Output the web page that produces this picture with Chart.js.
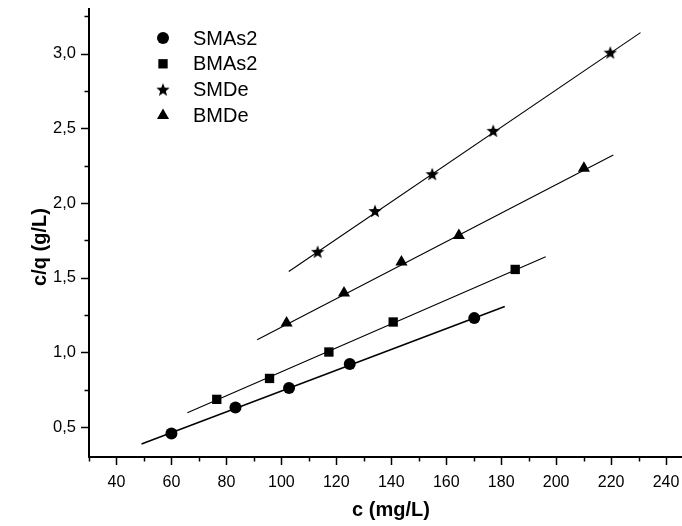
<!DOCTYPE html>
<html>
<head>
<meta charset="utf-8">
<script src="https://cdn.jsdelivr.net/npm/chart.js@4.4.0/dist/chart.umd.min.js"></script>
<style>
  body { margin: 0; background: #fff; }
  #wrap { width: 682px; height: 526px; }
</style>
</head>
<body>
<div id="wrap"><canvas id="isoChart"></canvas></div>
<script>
const seriesNames = ["SMAs2", "BMAs2", "SMDe", "BMDe"];

// measured points: c (mg/L) and c/q (g/L)
const smas2C = [60, 83.3, 102.8, 124.9, 170.2];
const smas2Cq = [0.458, 0.632, 0.762, 0.922, 1.230];
const bmas2C = [76.5, 95.7, 117.3, 140.7, 185.1];
const bmas2Cq = [0.686, 0.826, 1.003, 1.204, 1.556];
const smdeC = [113.2, 134.1, 154.9, 177.1, 219.7];
const smdeCq = [1.674, 1.947, 2.194, 2.484, 3.008];
const bmdeC = [101.9, 122.8, 143.7, 164.6, 210.1];
const bmdeCq = [1.197, 1.398, 1.605, 1.783, 2.234];

// linear fits, start and end of each line
const smas2FitC = [49.1, 181.3];
const smas2FitCq = [0.387, 1.308];
const bmas2FitC = [65.8, 196.2];
const bmas2FitCq = [0.597, 1.641];
const smdeFitC = [102.7, 230.7];
const smdeFitCq = [1.542, 3.142];
const bmdeFitC = [91.2, 220.8];
const bmdeFitCq = [1.085, 2.323];

const xTicks = [40, 60, 80, 100, 120, 140, 160, 180, 200, 220, 240];
const xMinorTicks = [30, 50, 70, 90, 110, 130, 150, 170, 190, 210, 230];
const yTicks = [0.5, 1.0, 1.5, 2.0, 2.5, 3.0];
const yMinorTicks = [0.75, 1.25, 1.75, 2.25, 2.75, 3.25];

const FONT = "'Liberation Sans', Arial, Helvetica, sans-serif";
Chart.defaults.font.family = FONT;
Chart.defaults.color = '#000';

function toPoints(xs, ys) {
  return xs.map((v, i) => ({x: v, y: ys[i]}));
}

// filled five-point star used as marker
function makeStar(size) {
  const c = document.createElement('canvas');
  c.width = size; c.height = size;
  const g = c.getContext('2d');
  const cx = size / 2, cy = size / 2 + 0.5, R = size / 2, r = R * 0.42;
  g.beginPath();
  for (let i = 0; i < 10; i++) {
    const a = -Math.PI / 2 + i * Math.PI / 5;
    const rad = i % 2 === 0 ? R : r;
    g.lineTo(cx + rad * Math.cos(a), cy + rad * Math.sin(a));
  }
  g.closePath();
  g.fillStyle = '#000';
  g.fill();
  return c;
}
const starImg = makeStar(14);

const markers = [
  {pointStyle: 'circle', radius: 6},
  {pointStyle: 'rect', radius: 6.6},
  {pointStyle: starImg, radius: 7},
  {pointStyle: 'triangle', radius: 7}
];

const pointSets = [
  toPoints(smas2C, smas2Cq),
  toPoints(bmas2C, bmas2Cq),
  toPoints(smdeC, smdeCq),
  toPoints(bmdeC, bmdeCq)
];
const fitSets = [
  toPoints(smas2FitC, smas2FitCq),
  toPoints(bmas2FitC, bmas2FitCq),
  toPoints(smdeFitC, smdeFitCq),
  toPoints(bmdeFitC, bmdeFitCq)
];
const fitWidths = [1.5, 1.1, 1.1, 1.1];

const datasets = [];
fitSets.forEach((pts, i) => {
  datasets.push({
    label: seriesNames[i] + ' fit',
    data: pts,
    showLine: true,
    borderColor: '#000',
    borderWidth: fitWidths[i],
    pointRadius: 0,
    fill: false
  });
});
pointSets.forEach((pts, i) => {
  datasets.push({
    label: seriesNames[i],
    data: pts,
    showLine: false,
    pointStyle: markers[i].pointStyle,
    pointRadius: markers[i].radius,
    backgroundColor: '#000',
    borderColor: '#000',
    borderWidth: 0
  });
});

// major / minor tick marks pointing outward
const axisTicks = {
  id: 'axisTicks',
  afterDraw(chart) {
    const {ctx, chartArea, scales: {x, y}} = chart;
    ctx.save();
    ctx.strokeStyle = '#000';
    ctx.lineWidth = 1.5;
    const x0 = chartArea.left, y0 = chartArea.bottom;
    const tick = (vals, len, horiz) => {
      vals.forEach(v => {
        ctx.beginPath();
        if (horiz) {
          const px = Math.round(x.getPixelForValue(v)) + 0.5;
          ctx.moveTo(px, y0); ctx.lineTo(px, y0 + len);
        } else {
          const py = Math.round(y.getPixelForValue(v)) + 0.5;
          ctx.moveTo(x0, py); ctx.lineTo(x0 - len, py);
        }
        ctx.stroke();
      });
    };
    tick(xTicks, 8, true);
    tick(xMinorTicks, 4.5, true);
    tick(yTicks, 8, false);
    tick(yMinorTicks, 4.5, false);
    ctx.restore();
  }
};

// axis titles and the legend block in the upper left
const annotations = {
  id: 'annotations',
  afterDraw(chart) {
    const {ctx} = chart;
    ctx.save();
    ctx.fillStyle = '#000';
    ctx.font = 'bold 20px ' + FONT;
    ctx.textAlign = 'center';
    ctx.textBaseline = 'middle';
    ctx.fillText('c (mg/L)', 391, 510);
    ctx.translate(40, 247);
    ctx.rotate(-Math.PI / 2);
    ctx.fillText('c/q (g/L)', 0, 0);
    ctx.restore();

    ctx.save();
    ctx.fillStyle = '#000';
    ctx.strokeStyle = '#000';
    ctx.font = '20px ' + FONT;
    ctx.textAlign = 'left';
    ctx.textBaseline = 'middle';
    seriesNames.forEach((name, i) => {
      const cy = 38 + i * 25.8;
      Chart.helpers.drawPoint(ctx, {
        pointStyle: markers[i].pointStyle,
        radius: markers[i].radius,
        rotation: 0,
        borderWidth: 0
      }, 163, cy);
      ctx.fillText(name, 193, cy + 1);
    });
    ctx.restore();
  }
};

new Chart('isoChart', {
  type: 'scatter',
  data: {datasets: datasets},
  options: {
    responsive: true,
    maintainAspectRatio: false,
    animation: false,
    // the x axis runs to the right edge of the canvas
    layout: {autoPadding: false, padding: {top: 9, right: 0, left: 0, bottom: 0}},
    plugins: {
      legend: {display: false},
      tooltip: {enabled: false}
    },
    scales: {
      x: {
        type: 'linear',
        min: 30,
        max: 245.8,
        afterFit: s => { s.height = 69; s.paddingLeft = 0; s.paddingRight = 0; },
        afterBuildTicks: s => { s.ticks = xTicks.map(v => ({value: v})); },
        grid: {display: false, drawTicks: false},
        border: {display: true, color: '#000', width: 2},
        ticks: {
          padding: 16,
          font: {size: 16},
          color: '#000',
          maxRotation: 0,
          autoSkip: false,
          callback: v => String(v)
        }
      },
      y: {
        type: 'linear',
        min: 0.3,
        max: 3.3,
        afterFit: s => { s.width = 89; s.paddingTop = 0; s.paddingBottom = 0; },
        afterBuildTicks: s => { s.ticks = yTicks.map(v => ({value: v})); },
        grid: {display: false, drawTicks: false},
        border: {display: true, color: '#000', width: 2},
        ticks: {
          padding: 13,
          font: {size: 16.5},
          color: '#000',
          autoSkip: false,
          callback: v => v.toFixed(1).replace('.', ',')
        }
      }
    }
  },
  plugins: [axisTicks, annotations]
});
</script>
</body>
</html>
